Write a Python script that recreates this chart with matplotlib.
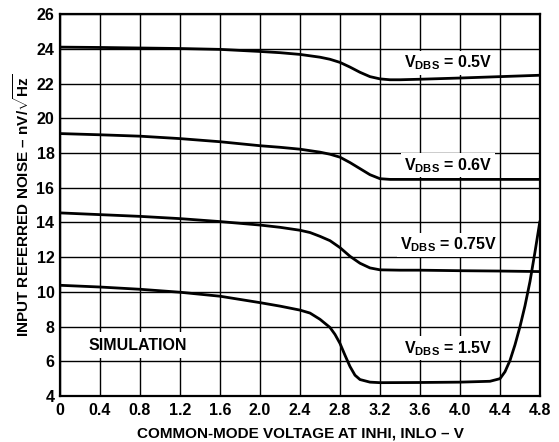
import matplotlib
matplotlib.use("Agg")
import matplotlib.pyplot as plt

plt.rcParams['font.family'] = ['Liberation Sans', 'DejaVu Sans']
plt.rcParams['font.weight'] = 'bold'
plt.rcParams['mathtext.fontset'] = 'custom'
plt.rcParams['mathtext.rm'] = 'Liberation Sans:bold'
plt.rcParams['mathtext.bf'] = 'Liberation Sans:bold'
plt.rcParams['mathtext.it'] = 'Liberation Sans:bold'

# Data
x_05 = [0, 0.4, 0.8, 1.2, 1.6, 2.0, 2.2, 2.4, 2.6, 2.7, 2.8, 2.9, 3.0, 3.1, 3.2, 3.3, 3.4, 3.6, 4.0, 4.4, 4.8]
y_05 = [24.1, 24.08, 24.05, 24.02, 23.97, 23.85, 23.78, 23.68, 23.52, 23.4, 23.22, 22.95, 22.65, 22.4, 22.27, 22.22, 22.22, 22.25, 22.32, 22.4, 22.48]

x_06 = [0, 0.4, 0.8, 1.2, 1.6, 2.0, 2.2, 2.4, 2.6, 2.7, 2.8, 2.9, 3.0, 3.1, 3.2, 3.3, 3.6, 4.0, 4.4, 4.8]
y_06 = [19.12, 19.05, 18.97, 18.83, 18.65, 18.42, 18.33, 18.22, 18.05, 17.93, 17.76, 17.45, 17.1, 16.75, 16.52, 16.48, 16.48, 16.48, 16.48, 16.48]

x_075 = [0, 0.4, 0.8, 1.2, 1.6, 2.0, 2.2, 2.4, 2.5, 2.6, 2.7, 2.8, 2.9, 3.0, 3.1, 3.2, 3.4, 3.6, 4.0, 4.4, 4.8]
y_075 = [14.55, 14.45, 14.35, 14.22, 14.05, 13.85, 13.72, 13.55, 13.42, 13.2, 12.95, 12.55, 12.05, 11.65, 11.38, 11.27, 11.25, 11.25, 11.22, 11.2, 11.17]

x_15 = [0, 0.4, 0.8, 1.2, 1.6, 2.0, 2.2, 2.4, 2.5, 2.6, 2.7, 2.75, 2.8, 2.85, 2.9, 2.95, 3.0, 3.1, 3.2, 3.6, 4.0, 4.3, 4.4, 4.45, 4.5, 4.55, 4.6, 4.65, 4.7, 4.75, 4.8]
y_15 = [10.38, 10.28, 10.15, 9.98, 9.75, 9.38, 9.18, 8.95, 8.78, 8.42, 7.95, 7.55, 7.03, 6.35, 5.7, 5.2, 4.95, 4.8, 4.77, 4.78, 4.8, 4.85, 5.0, 5.4, 6.05, 6.95, 8.0, 9.2, 10.6, 12.3, 14.1]

x_ticks = [0, 0.4, 0.8, 1.2, 1.6, 2.0, 2.4, 2.8, 3.2, 3.6, 4.0, 4.4, 4.8]
x_ticklabels = ['0', '0.4', '0.8', '1.2', '1.6', '2.0', '2.4', '2.8', '3.2', '3.6', '4.0', '4.4', '4.8']
y_ticks = [4, 6, 8, 10, 12, 14, 16, 18, 20, 22, 24, 26]

labels = ['0.5V', '0.6V', '0.75V', '1.5V']
label_pos = [(3.88, 23.2), (3.88, 17.3), (3.88, 12.7), (3.88, 6.75)]

fig = plt.figure(figsize=(5.59, 4.42), dpi=100)
ax = fig.add_axes([0.1073, 0.104, 0.8587, 0.864])

for xs, ys in [(x_05, y_05), (x_06, y_06), (x_075, y_075), (x_15, y_15)]:
    ax.plot(xs, ys, color='black', lw=2.0, zorder=3, solid_capstyle='butt')

ax.set_xlim(0, 4.8)
ax.set_ylim(4, 26)
ax.set_xticks(x_ticks)
ax.set_xticklabels(x_ticklabels)
ax.set_yticks(y_ticks)
ax.grid(True, color='black', lw=1.0, zorder=1)
ax.tick_params(length=0, labelsize=11.5)
ax.tick_params(axis='x', pad=5)
ax.tick_params(axis='y', pad=4)
for lbl in ax.get_xticklabels() + ax.get_yticklabels():
    lbl.set_fontweight('bold')
for s in ax.spines.values():
    s.set_linewidth(1.6)

for lab, (px, py) in zip(labels, label_pos):
    ax.text(px, py, r'V$_{\mathbf{DBS}}$ = ' + lab, ha='center', va='center',
            fontsize=11.5, fontweight='bold', zorder=4,
            bbox=dict(facecolor='white', edgecolor='none', pad=2.0))

ax.text(0.78, 6.93, 'SIMULATION', ha='center', va='center', fontsize=11.5,
        fontweight='bold', zorder=4,
        bbox=dict(facecolor='white', edgecolor='none', pad=4))

ax.set_xlabel('COMMON-MODE VOLTAGE AT INHI, INLO – V', fontsize=11, fontweight='bold', labelpad=6)
ax.set_ylabel(r'INPUT REFERRED NOISE – nV/$\sqrt{\mathbf{Hz}}$', fontsize=11, fontweight='bold', labelpad=3)

fig.savefig('out.png', dpi=100, facecolor='white')
